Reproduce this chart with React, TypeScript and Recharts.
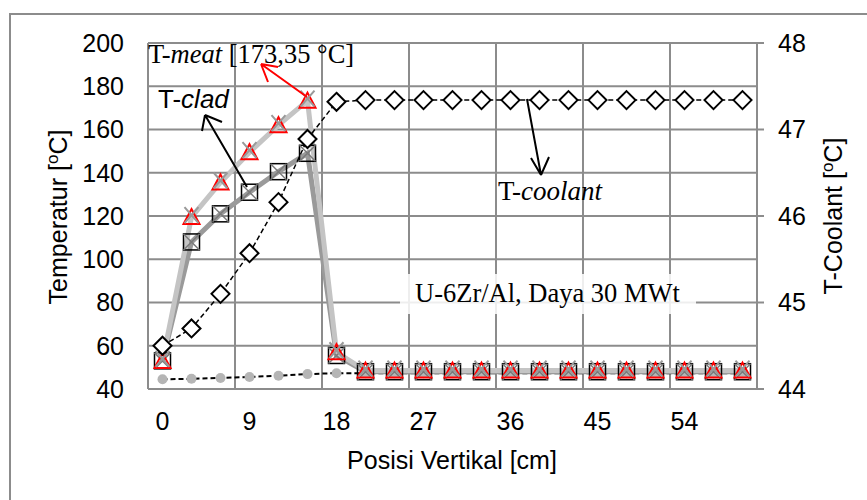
import React from "react";
import {
  ComposedChart,
  Line,
  XAxis,
  YAxis,
  CartesianGrid,
  ReferenceLine,
} from "recharts";

// posisi vertikal (cm)
const posisi = [0, 3, 6, 9, 12, 15, 18, 21, 24, 27, 30, 33, 36, 39, 42, 45, 48, 51, 54, 57, 60];
const tMeat = [53, 119.5, 135.5, 149.5, 162, 173.35, 57, 48.5, 48.5, 48.5, 48.5, 48.5, 48.5, 48.5, 48.5, 48.5, 48.5, 48.5, 48.5, 48.5, 48.5];
const tClad = [53, 108, 121, 131, 140.5, 149, 55.5, 48, 48, 48, 48, 48, 48, 48, 48, 48, 48, 48, 48, 48, 48];
const tCoolant = [44.5, 44.7, 45.1, 45.57, 46.16, 46.89, 47.32, 47.34, 47.34, 47.34, 47.34, 47.34, 47.34, 47.34, 47.34, 47.34, 47.34, 47.34, 47.34, 47.34, 47.34];

const xTicks = [0, 9, 18, 27, 36, 45, 54];
const xGrid = [-1.5, 7.5, 16.5, 25.5, 34.5, 43.5, 52.5, 61.5];
const leftTicks = [40, 60, 80, 100, 120, 140, 160, 180, 200];
const rightTicks = [44, 45, 46, 47, 48];

const data = posisi.map((x, i) => ({
  x,
  meat: tMeat[i],
  clad: tClad[i],
  coolant: tCoolant[i],
}));

const GRID = "#8c8c8c";
const SANS = "'Liberation Sans', Arial, sans-serif";
const SERIF = "'Liberation Serif', 'Times New Roman', serif";

const SquareDot = (p: any) => {
  const { cx, cy, index } = p;
  if (cx == null || cy == null) return <g key={index} />;
  return (
    <g key={index}>
      <rect x={cx - 8} y={cy - 8} width={16} height={16} fill="none" stroke="#000" strokeWidth={1.5} />
      <path d={`M${cx - 8},${cy - 8}L${cx + 8},${cy + 8}M${cx + 8},${cy - 8}L${cx - 8},${cy + 8}`} stroke="#7a7a7a" strokeWidth={1.5} />
    </g>
  );
};

const TriangleDot = (p: any) => {
  const { cx, cy, index } = p;
  if (cx == null || cy == null) return <g key={index} />;
  return (
    <g key={index}>
      <polygon
        points={`${cx},${cy - 8} ${cx + 8},${cy + 7} ${cx - 8},${cy + 7}`}
        fill="none"
        stroke="#ff0000"
        strokeWidth={2}
      />
      <path d={`M${cx - 7},${cy - 10}L${cx + 7},${cy + 6}M${cx + 7},${cy - 10}L${cx - 7},${cy + 6}`} stroke="#999" strokeWidth={2} />
    </g>
  );
};

const DiamondDot = (p: any) => {
  const { cx, cy, index } = p;
  if (cx == null || cy == null) return <g key={index} />;
  return (
    <polygon
      key={index}
      points={`${cx},${cy - 9} ${cx + 9},${cy} ${cx},${cy + 9} ${cx - 9},${cy}`}
      fill="#fff"
      stroke="#000"
      strokeWidth={2}
    />
  );
};

const GrayDot = (p: any) => {
  const { cx, cy, index } = p;
  if (cx == null || cy == null) return <g key={index} />;
  return <circle key={index} cx={cx} cy={cy} r={5} fill="#b5b5b5" />;
};

export default function App() {
  const tickStyle = { fill: "#000", fontSize: 25, fontFamily: SANS };
  return (
    <div style={{ position: "absolute", left: 0, top: 0, width: 867, height: 500, overflow: "hidden", background: "#fff" }}>
      <div
        style={{
          position: "absolute",
          left: 9,
          top: 13,
          width: 900,
          height: 600,
          border: `2px solid ${GRID}`,
          boxSizing: "border-box",
        }}
      />
      <div style={{ position: "absolute", left: 0, top: 0 }}>
        <ComposedChart width={867} height={500} data={data} margin={{ top: 43, right: 0, bottom: 0, left: 0 }}>
          <CartesianGrid vertical={false} stroke={GRID} strokeWidth={2} />
          {xGrid.map((g) => (
            <ReferenceLine key={g} x={g} stroke={GRID} strokeWidth={2} />
          ))}
          <XAxis
            dataKey="x"
            type="number"
            domain={[-1.5, 61.5]}
            ticks={xTicks}
            height={111}
            tickLine={false}
            tickSize={0}
            tickMargin={23}
            axisLine={{ stroke: GRID, strokeWidth: 2 }}
            tick={tickStyle}
          />
          <YAxis
            domain={[40, 200]}
            ticks={leftTicks}
            width={148}
            tickLine={false}
            tickSize={6}
            tickMargin={18}
            axisLine={{ stroke: GRID, strokeWidth: 2 }}
            tick={tickStyle}
          />
          <YAxis
            yAxisId="right"
            orientation="right"
            domain={[44, 48]}
            ticks={rightTicks}
            width={110}
            tickSize={7}
            tickMargin={14}
            tickLine={{ stroke: GRID, strokeWidth: 2 }}
            axisLine={{ stroke: GRID, strokeWidth: 2 }}
            tick={tickStyle}
          />
          <Line
            dataKey="coolant"
            stroke="#000"
            strokeWidth={2}
            strokeDasharray="5 3"
            dot={GrayDot}
            isAnimationActive={false}
          />
          <Line
            dataKey="clad"
            stroke="#9a9a9a"
            strokeWidth={5}
            dot={SquareDot}
            isAnimationActive={false}
          />
          <Line
            dataKey="meat"
            stroke="#c4c4c4"
            strokeWidth={5}
            dot={TriangleDot}
            isAnimationActive={false}
          />
          <Line
            yAxisId="right"
            dataKey="coolant"
            stroke="#000"
            strokeWidth={1.5}
            strokeDasharray="5 3"
            dot={DiamondDot}
            isAnimationActive={false}
          />
        </ComposedChart>
      </div>
      <svg width={867} height={500} style={{ position: "absolute", left: 0, top: 0, pointerEvents: "none" }}>
        {/* axis titles */}
        <text transform="translate(67,217) rotate(-90)" textAnchor="middle" fontFamily={SANS} fontSize={25} fill="#000">
          Temperatur [<tspan fontSize={17} dy={-9}>o</tspan><tspan dy={9}>C]</tspan>
        </text>
        <text transform="translate(842,216) rotate(-90)" textAnchor="middle" fontFamily={SANS} fontSize={25} fill="#000">
          T-Coolant [<tspan fontSize={17} dy={-9}>o</tspan><tspan dy={9}>C]</tspan>
        </text>
        <text x={452} y={469} textAnchor="middle" fontFamily={SANS} fontSize={25} fill="#000">
          Posisi Vertikal [cm]
        </text>

        {/* T-meat annotation */}
        <text x={148} y={63} fontFamily={SERIF} fontSize={26.5} fill="#000">
          T-<tspan fontStyle="italic">meat</tspan> [173,35 °C]
        </text>
        <path d="M307,97L261,64M261,64L268,82M261,64L278,67" stroke="#ff0000" strokeWidth={2} fill="none" />

        {/* T-clad annotation */}
        <text x={158} y={108} fontFamily={SANS} fontSize={26} fill="#000">
          T-<tspan fontStyle="italic">clad</tspan>
        </text>
        <path d="M247,187L205,115M205,115L202,131M205,115L222,122" stroke="#000" strokeWidth={2} fill="none" />

        {/* T-coolant annotation */}
        <text x={498} y={200} fontFamily={SERIF} fontSize={27} fill="#000">
          T-<tspan fontStyle="italic">coolant</tspan>
        </text>
        <path d="M527,99L541,175M541,175L531,158M541,175L549,157" stroke="#000" strokeWidth={2} fill="none" />

        {/* case label */}
        <rect x={400} y={274} width={296} height={40} fill="#fff" fillOpacity={0.85} />
        <text x={415} y={302} fontFamily={SERIF} fontSize={26.5} fill="#000">
          U-6Zr/Al, Daya 30 MWt
        </text>
      </svg>
    </div>
  );
}
